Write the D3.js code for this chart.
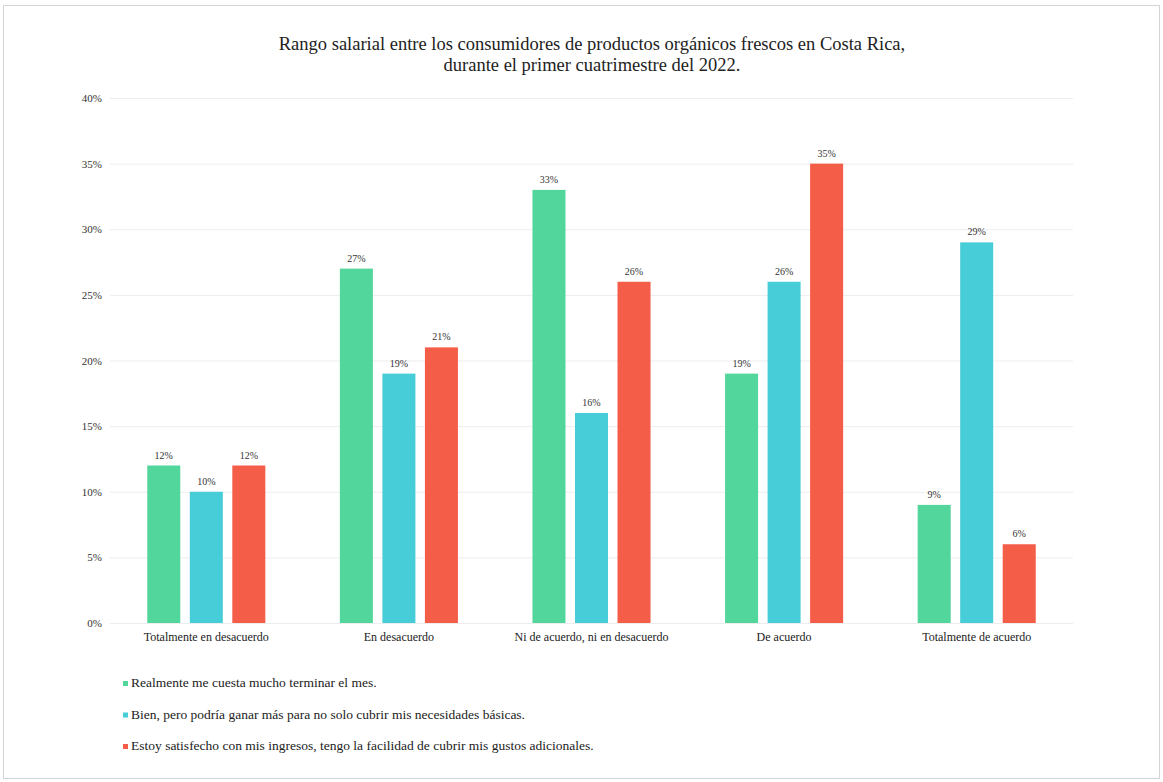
<!DOCTYPE html>
<html><head><meta charset="utf-8">
<script src="https://cdn.jsdelivr.net/npm/d3@7"></script>
<style>body{margin:0;background:#fff}svg{display:block}</style>
</head><body>
<script>
const categories = ["Totalmente en desacuerdo","En desacuerdo","Ni de acuerdo, ni en desacuerdo","De acuerdo","Totalmente de acuerdo"];
const seriesNames = ["Realmente me cuesta mucho terminar el mes.","Bien, pero podría ganar más para no solo cubrir mis necesidades básicas.","Estoy satisfecho con mis ingresos, tengo la facilidad de cubrir mis gustos adicionales."];
const seriesGreen = [12,27,33,19,9];
const seriesCyan = [10,19,16,26,29];
const seriesRed = [12,21,26,35,6];
const yTicks = [0,5,10,15,20,25,30,35,40];
const colors = ["#52d69b","#47cdd8","#f45d48"];
const titleLines = ["Rango salarial entre los consumidores de productos orgánicos frescos en Costa Rica,","durante el primer cuatrimestre del 2022."];

(function(){
const W=1163,H=782;
const series=[seriesGreen,seriesCyan,seriesRed];
const svg=d3.select("body").append("svg").attr("width",W).attr("height",H);
const font="'Liberation Serif','Times New Roman',serif";
svg.append("rect").attr("x",3.5).attr("y",5.5).attr("width",W-7).attr("height",H-9).attr("fill","#fff").attr("stroke","#d4d4d4");

const pL=110,pR=1073,pT=98,pB=623;
const y=d3.scaleLinear().domain([0,40]).range([pB,pT]);
const x0=d3.scaleBand().domain(categories).range([pL,pR]).paddingInner(0.387).paddingOuter(0.1935);
const x1=d3.scaleBand().domain([0,1,2]).range([0,x0.bandwidth()]).paddingInner(0.2235);

svg.selectAll("text.title").data(titleLines).join("text").attr("class","title")
 .attr("x",592).attr("y",(d,i)=>50+i*21).attr("text-anchor","middle")
 .style("font-family",font).style("font-size","18.5px").attr("fill","#222").text(d=>d);

const yAxis=d3.axisLeft(y).tickValues(yTicks).tickFormat(d=>d+"%").tickSize(-(pR-pL)).tickPadding(8);
const ga=svg.append("g").attr("transform",`translate(${pL},0)`).call(yAxis);
ga.attr("font-family",null);
ga.select(".domain").remove();
ga.selectAll(".tick line").attr("stroke","#ededed");
ga.selectAll(".tick text").style("font-family",font).style("font-size","11px").attr("fill","#333");

const xAxis=d3.axisBottom(x0).tickSize(0).tickPadding(9);
const gx=svg.append("g").attr("transform",`translate(0,${pB})`).call(xAxis);
gx.attr("font-family",null);
gx.select(".domain").remove();
gx.selectAll(".tick text").style("font-family",font).style("font-size","12px").attr("fill","#222");

const g=svg.append("g");
series.forEach((s,si)=>{
  g.selectAll(null).data(s).join("rect")
   .attr("x",(d,i)=>x0(categories[i])+x1(si)).attr("width",x1.bandwidth())
   .attr("y",d=>y(d)).attr("height",d=>pB-y(d)).attr("fill",colors[si]);
  g.selectAll(null).data(s).join("text")
   .attr("x",(d,i)=>x0(categories[i])+x1(si)+x1.bandwidth()/2).attr("y",d=>y(d)-7)
   .attr("text-anchor","middle").style("font-family",font).style("font-size","10px").attr("fill","#333")
   .text(d=>d+"%");
});

const lg=svg.append("g");
seriesNames.forEach((n,i)=>{
  const yy=687+i*31.5;
  lg.append("rect").attr("x",123).attr("y",yy-6).attr("width",5).attr("height",5).attr("fill",colors[i]);
  lg.append("text").attr("x",131).attr("y",yy).style("font-family",font).style("font-size","13.5px").attr("fill","#222").text(n);
});
})();
</script>
</body></html>
